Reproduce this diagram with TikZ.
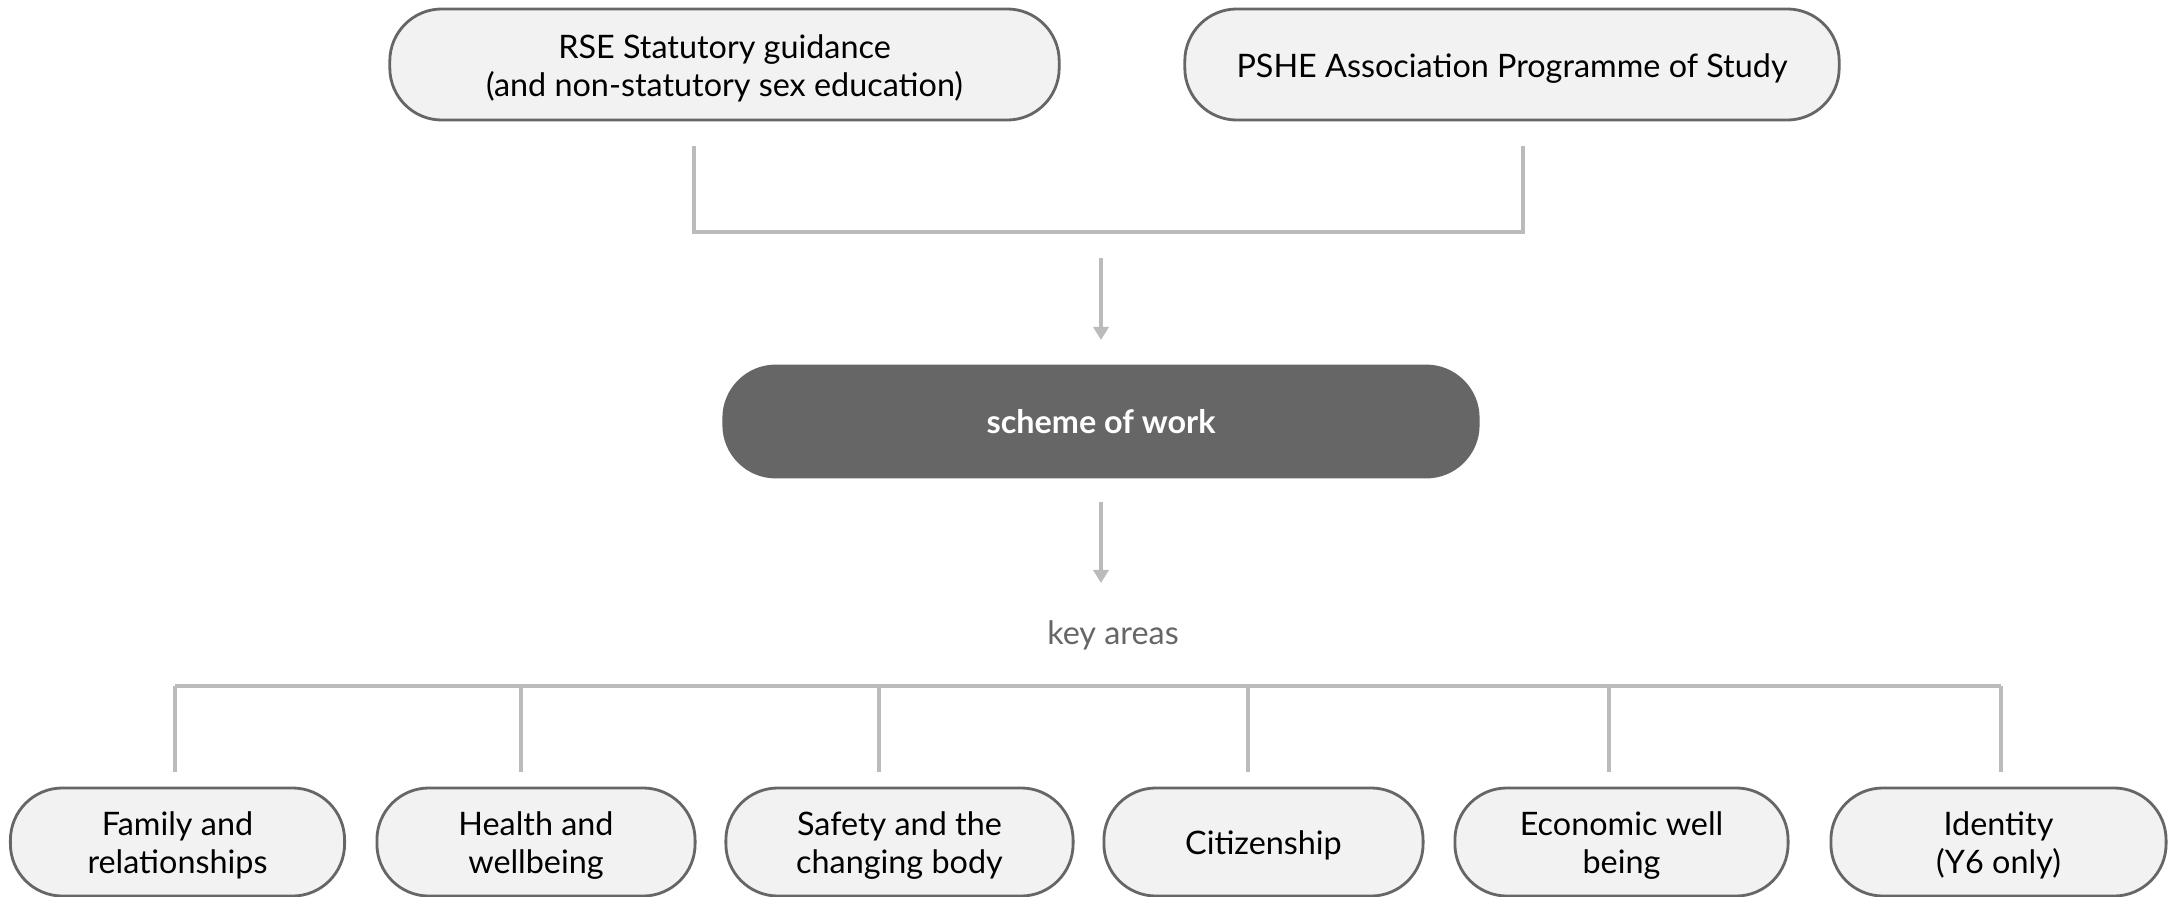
\documentclass[tikz,border=0pt]{standalone}
\usepackage{fontspec}
\setmainfont{Lato}
\usetikzlibrary{arrows.meta}

\definecolor{boxfill}{HTML}{F2F2F2}
\definecolor{boxline}{HTML}{666666}
\definecolor{linkgray}{HTML}{BBBBBB}
\definecolor{labelgray}{HTML}{666666}

% strut on the first line, so the text sits as low as in the drawing
\newcommand{\boxstrut}{\rule{0pt}{3.1mm}}

\tikzset{
    areabox/.style={draw=boxline,fill=boxfill,line width=0.8pt,rounded corners=0.52cm,
        align=center,inner sep=0pt,minimum height=1.08cm,
        font=\fontsize{9.2}{10.9}\selectfont},
    link/.style={draw=linkgray,line width=1pt},
    linkarrow/.style={link,-{Triangle[width=0.15cm,length=0.13cm]}}
}

\begin{document}
\begin{tikzpicture}[x=0.01cm,y=-0.01cm]
    \useasboundingbox (0,0) rectangle (2174,897);

    % sources
    \node[areabox,minimum width=6.69cm,minimum height=1.11cm] (rse) at (724.5,64.5) {\boxstrut RSE Statutory guidance\\(and non-statutory sex education)};
    \node[areabox,minimum width=6.54cm,minimum height=1.11cm] (pshe) at (1512,64.5) {\boxstrut PSHE Association Programme of Study};

    % bracket joining the two sources
    \coordinate (rseleg) at (694,146);
    \coordinate (psheleg) at (1523,146);
    \draw[link] (rseleg) -- ++(0,86) -| (psheleg);

    \coordinate (joinout) at (1101,258);
    \coordinate (schemein) at (1101,340);
    \draw[linkarrow] (joinout) -- (schemein);

    % scheme of work
    \node[areabox,draw=boxline,fill=boxline,minimum width=7.54cm,minimum height=1.11cm,text=white,
        font=\fontsize{9.2}{10.9}\selectfont\bfseries] (scheme) at (1101,421.5) {scheme of work};

    \coordinate (schemeout) at (1101,502);
    \coordinate (keyin) at (1101,583);
    \draw[linkarrow] (schemeout) -- (keyin);

    \node[text=labelgray,font=\fontsize{9.2}{10.9}\selectfont,inner sep=0pt] (key) at (1113,635) {key areas};

    % key areas
    \node[areabox,minimum width=3.34cm] (fam) at (177.5,842) {\boxstrut Family and\\relationships};
    \node[areabox,minimum width=3.18cm] (hlth) at (536,842) {\boxstrut Health and\\wellbeing};
    \node[areabox,minimum width=3.47cm] (sfty) at (899.5,842) {\boxstrut Safety and the\\changing body};
    \node[areabox,minimum width=3.19cm] (citz) at (1263.5,842) {\boxstrut Citizenship};
    \node[areabox,minimum width=3.33cm] (econ) at (1621.5,842) {\boxstrut Economic well\\being};
    \node[areabox,minimum width=3.35cm] (ident) at (1998.5,842) {\boxstrut Identity\\(Y6 only)};

    % bus line over the key areas
    \coordinate (busl) at (175,686);
    \coordinate (busr) at (2001,686);
    \draw[link] (busl) -- (busr);
    \draw[link] (busl) -- (175,772);
    \draw[link] (521,686) -- (521,772);
    \draw[link] (879,686) -- (879,772);
    \draw[link] (1248,686) -- (1248,772);
    \draw[link] (1609,686) -- (1609,772);
    \draw[link] (busr) -- (2001,772);
\end{tikzpicture}
\end{document}
